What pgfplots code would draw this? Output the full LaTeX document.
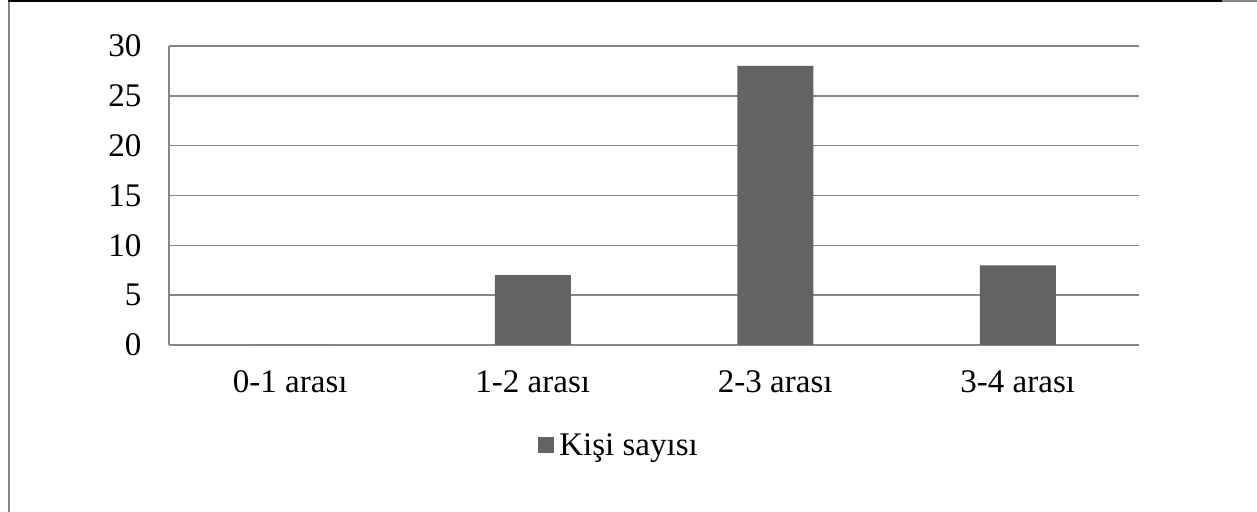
\documentclass[border=0pt]{standalone}
\usepackage{pgfplots}
\pgfplotsset{compat=1.18}
\usepackage{fontspec}
\setmainfont{Liberation Serif}
\definecolor{barc}{RGB}{99,99,99}
\definecolor{gridc}{RGB}{134,134,134}
\begin{document}
\begin{tikzpicture}[x=1bp,y=1bp]
  \useasboundingbox (0,0) rectangle (1257,512);
  % frame of the surrounding box
  \draw[gridc, line width=2.5bp] (9,0) -- (9,511);
  \draw[black, line width=2.5bp] (8,511) -- (1222,511);
  \draw[gridc, line width=2.5bp] (1222,511) -- (1257,511);
  \begin{axis}[
      at={(169bp,167bp)}, anchor=south west,
      scale only axis,
      width=970bp, height=299bp,
      xmin=-0.5, xmax=3.5,
      ymin=0, ymax=30,
      ytick={0,5,...,30},
      xtick={0,1,2,3},
      xticklabels={0-1 arası, 1-2 arası, 2-3 arası, 3-4 arası},
      axis lines=left,
      axis line style={gridc, line width=1.5bp, -},
      major tick length=0pt,
      ymajorgrids,
      grid style={gridc, line width=1.5bp},
      tick label style={font=\rmfamily\fontsize{33bp}{40bp}\selectfont},
      /pgf/number format/assume math mode=true,
      yticklabel style={xshift=-24bp},
      xticklabel style={yshift=-22bp},
      ybar, bar width=76bp,
      legend style={at={(0.464,-0.334)}, anchor=center, draw=none,
        font=\rmfamily\fontsize{33bp}{40bp}\selectfont,
        legend cell align=left, /tikz/every even column/.append style={column sep=0pt}},
      legend image code/.code={\fill[barc] (0bp,-8bp) rectangle (16bp,8bp);\path (19bp,0bp);},
    ]
    \addplot[fill=barc, draw=none] coordinates {(0,0) (1,7) (2,28) (3,8)};
    \legend{Kişi sayısı}
  \end{axis}
\end{tikzpicture}
\end{document}
